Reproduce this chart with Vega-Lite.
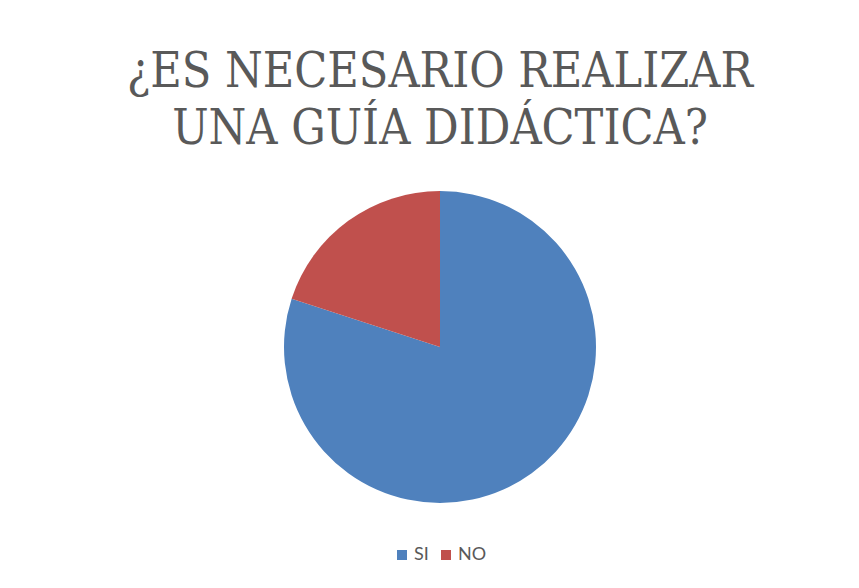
{
  "$schema": "https://vega.github.io/schema/vega-lite/v6.json",
  "width": 859,
  "height": 588,
  "autosize": {"type": "fit", "contains": "padding"},
  "padding": {"top": 49, "bottom": 24, "left": 21, "right": 0},
  "background": "white",
  "title": {
    "text": ["¿ES NECESARIO REALIZAR", "UNA GUÍA DIDÁCTICA?"],
    "font": "DejaVu Serif Condensed",
    "fontSize": 48,
    "fontWeight": "normal",
    "color": "#595959",
    "lineHeight": 57,
    "anchor": "middle",
    "offset": 14
  },
  "data": {
    "values": [
      {"respuesta": "SI", "valor": 80},
      {"respuesta": "NO", "valor": 20}
    ]
  },
  "mark": {"type": "arc", "outerRadius": 156},
  "encoding": {
    "theta": {"field": "valor", "type": "quantitative", "stack": true},
    "order": {"field": "respuesta", "sort": "descending"},
    "color": {
      "field": "respuesta",
      "type": "nominal",
      "sort": ["SI", "NO"],
      "scale": {"domain": ["SI", "NO"], "range": ["#4F81BD", "#C0504D"]},
      "legend": {
        "title": null,
        "orient": "bottom",
        "direction": "horizontal",
        "symbolType": "square",
        "symbolSize": 100,
        "symbolStrokeWidth": 0,
        "labelFont": "Lato",
        "labelFontSize": 18,
        "labelColor": "#595959",
        "labelOffset": 3,
        "columnPadding": 8,
        "offset": 20
      }
    }
  },
  "config": {
    "view": {"stroke": null},
    "legend": {"layout": {"bottom": {"anchor": "middle"}}}
  }
}
